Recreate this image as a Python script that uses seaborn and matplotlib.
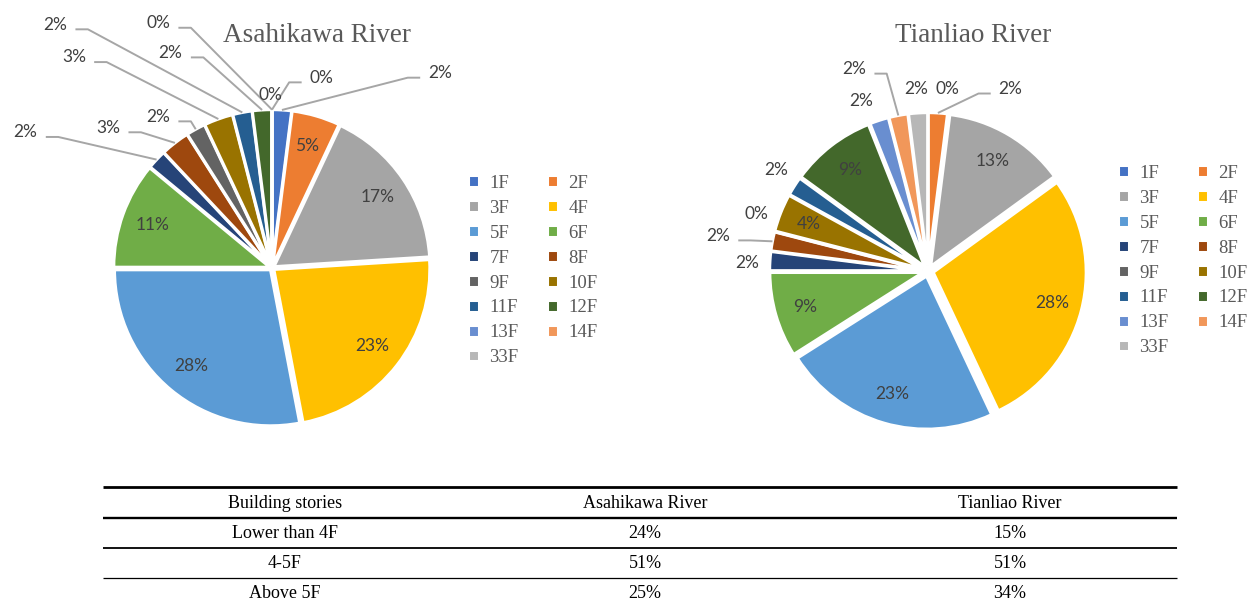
import numpy as np
import matplotlib
matplotlib.use("Agg")
import matplotlib.pyplot as plt
import seaborn as sns

# ---------------- data ----------------
floors = ["1F", "2F", "3F", "4F", "5F", "6F", "7F", "8F", "9F", "10F",
          "11F", "12F", "13F", "14F", "33F"]
asahikawa = [2, 5, 17, 23, 28, 11, 2, 3, 2, 3, 2, 2, 0, 0, 0]
tianliao = [0, 2, 13, 28, 23, 9, 2, 2, 0, 4, 2, 9, 2, 2, 2]
colors = ["#4472C4", "#ED7D31", "#A5A5A5", "#FFC000", "#5B9BD5", "#70AD47",
          "#264478", "#9E480E", "#636363", "#997300", "#255E91", "#43682B",
          "#698ED0", "#F1975A", "#B7B7B7"]

table_header = ["Building stories", "Asahikawa River", "Tianliao River"]
table_rows = ["Lower than 4F", "4-5F", "Above 5F"]
table_asahikawa = ["24%", "51%", "25%"]
table_tianliao = ["15%", "51%", "34%"]

# outside-label placement (pie radius units, relative to pie centre); others are inside labels
asa_label_pos = {0: (1.08, 1.25, True), 14: (0.32, 1.22, True), 13: (-0.01, 1.11, False),
                 12: (-0.73, 1.57, True), 11: (-0.65, 1.38, True), 10: (-1.39, 1.56, True),
                 9: (-1.27, 1.35, True), 8: (-0.73, 0.97, True), 7: (-1.05, 0.90, True),
                 6: (-1.58, 0.87, True)}
tia_label_pos = {0: (0.13, 1.19, False), 1: (0.54, 1.19, True), 14: (-0.08, 1.19, False),
                 13: (-0.48, 1.32, True), 12: (-0.44, 1.11, False), 10: (-0.99, 0.66, False),
                 8: (-1.12, 0.37, False), 7: (-1.37, 0.23, True), 6: (-1.18, 0.05, False)}

# ---------------- style ----------------
sns.set_theme(style="white")
plt.rcParams["font.family"] = ["Liberation Serif", "DejaVu Serif"]

W, H = 1249, 604
fig = plt.figure(figsize=(W / 100, H / 100), dpi=100)
fig.patch.set_facecolor("white")

LABEL_FONT = ["Lato", "DejaVu Sans"]
LABEL_COLOR = "#404040"
GRAY = "#595959"
LEADER = "#A6A6A6"


def draw_pie(cx, cy, R, values, explode, label_pos, title, title_x, legend_xy):
    lim = 1.8
    size = 2 * lim * R
    ax = fig.add_axes([(cx - size / 2) / W, 1 - (cy + size / 2) / H, size / W, size / H])
    wedges, _ = ax.pie(values, colors=colors, startangle=90, counterclock=False,
                       explode=[explode] * len(values),
                       wedgeprops=dict(edgecolor="white", linewidth=2.2))
    ax.set_xlim(-lim, lim)
    ax.set_ylim(-lim, lim)
    ax.set_aspect("equal")
    ax.axis("off")
    for i, w in enumerate(wedges):
        ang = np.deg2rad((w.theta1 + w.theta2) / 2)
        c = np.array(w.center)
        txt = f"{values[i]}%"
        if i in label_pos:
            tx, ty, leader = label_pos[i]
            ax.text(tx, ty, txt, ha="center", va="center", fontsize=12.5,
                    color=LABEL_COLOR, family=LABEL_FONT, clip_on=False)
            if leader:
                sx, sy = c + 1.0 * np.array([np.cos(ang), np.sin(ang)])
                side = 1 if sx > tx else -1
                ex = tx + side * 0.13
                kx = tx + side * 0.21
                ax.plot([sx, kx, ex], [sy, ty - 0.03, ty - 0.03], color=LEADER,
                        lw=1.4, clip_on=False, solid_capstyle="butt")
        else:
            p = c + 0.8 * np.array([np.cos(ang), np.sin(ang)])
            ax.text(p[0], p[1], txt, ha="center", va="center", fontsize=12.5,
                    color=LABEL_COLOR, family=LABEL_FONT)
    fig.text(title_x / W, 1 - 35 / H, title, ha="center", va="center",
             fontsize=19.5, color=GRAY)
    order = list(range(0, len(floors), 2)) + list(range(1, len(floors), 2))
    fig.legend([wedges[k] for k in order], [floors[k] for k in order],
               loc="upper left", bbox_to_anchor=(legend_xy[0] / W, 1 - legend_xy[1] / H),
               ncol=2, frameon=False, fontsize=13.5, labelcolor=GRAY,
               handlelength=0.6, handleheight=0.6, handletextpad=0.55,
               labelspacing=0.42, columnspacing=1.5, borderpad=0, borderaxespad=0)
    return ax


draw_pie(272, 268, 156, asahikawa, 0.015, asa_label_pos, "Asahikawa River", 317, (468, 175))
draw_pie(928, 271, 153, tianliao, 0.035, tia_label_pos, "Tianliao River", 973, (1118, 165))

# ---------------- table ----------------
axt = fig.add_axes([0, 0, 1, 1])
axt.set_xlim(0, W)
axt.set_ylim(H, 0)
axt.axis("off")
axt.patch.set_alpha(0)
x0, x1 = 103, 1177
for y, lw in [(487, 2.0), (518, 1.7), (548, 1.3), (578, 0.9)]:
    axt.plot([x0, x1], [y, y], color="black", lw=lw, solid_capstyle="butt")
col_x = [285, 645, 1010]
row_y = [503, 533, 563, 593]
for j, t in enumerate(table_header):
    axt.text(col_x[j], row_y[0], t, ha="center", va="center", fontsize=13, color="black")
for i in range(len(table_rows)):
    for j, t in enumerate([table_rows[i], table_asahikawa[i], table_tianliao[i]]):
        axt.text(col_x[j], row_y[i + 1], t, ha="center", va="center", fontsize=13, color="black")

fig.savefig("out.png", dpi=100, facecolor="white")
